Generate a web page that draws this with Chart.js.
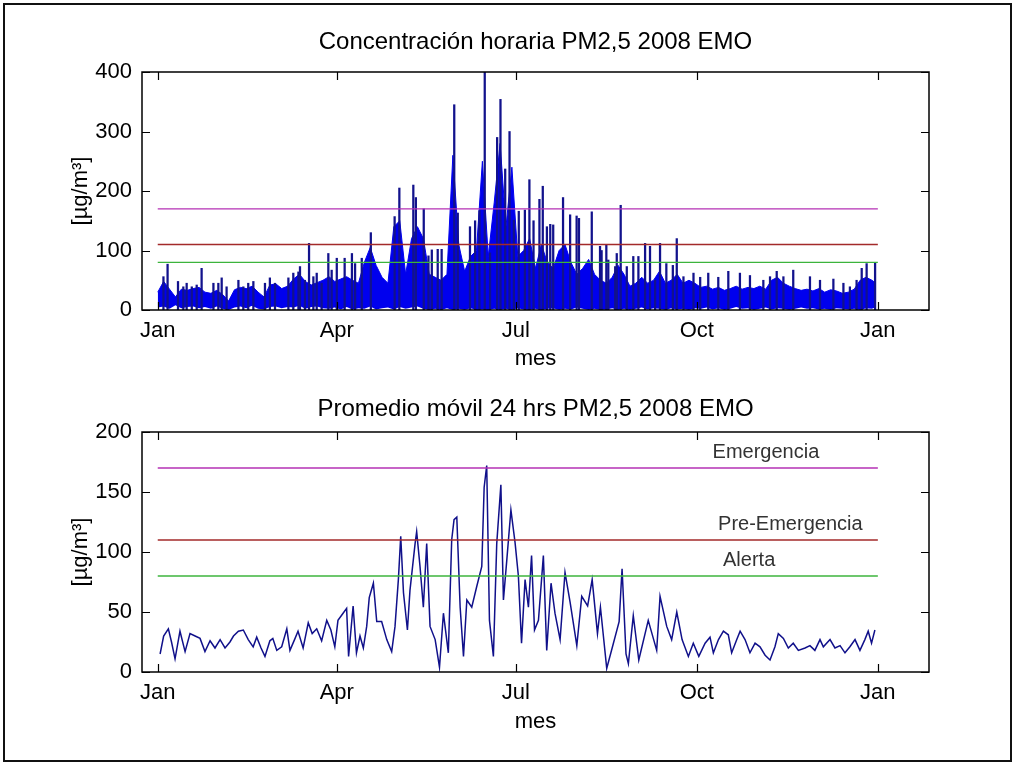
<!DOCTYPE html>
<html>
<head>
<meta charset="utf-8">
<script src="https://cdn.jsdelivr.net/npm/chart.js@4.4.1/dist/chart.umd.min.js"></script>
<style>
  html, body { margin: 0; padding: 0; background: #fff; }
  #fig { position: relative; width: 1016px; height: 766px; overflow: hidden; background: #fff; }
  #frame { position: absolute; left: 3px; top: 3px; width: 1009px; height: 759px; border: 2px solid #111; box-sizing: border-box; pointer-events: none; }
  .pane { position: absolute; left: 0; width: 1016px; height: 383px; }
</style>
</head>
<body>
<div id="fig">
  <div class="pane" style="top:0"><canvas id="c-top" width="1016" height="383"></canvas></div>
  <div class="pane" style="top:383px"><canvas id="c-bot" width="1016" height="383"></canvas></div>
  <div id="frame"></div>
</div>
<script>
// x is days since 1 Jan 2008; axis runs datenum 733400..733800
const X_MIN = -8, X_MAX = 392;
const tickDays = [0, 91, 182, 274, 366];
const tickLabels = ['Jan', 'Apr', 'Jul', 'Oct', 'Jan'];

// alert levels (µg/m3)
const alertNames = ['Emergencia', 'Pre-Emergencia', 'Alerta'];
const alertValues = [170, 110, 80];
const alertColors = ['#b530b5', '#a32a2a', '#3cb43c'];
const alertSpan = [0, 366];
const alertLabelDays = [282, 284.8, 287.3];
const alertLabelVals = [183, 123, 93];

// hourly PM2.5: dense band (every 3 days)
const bandDays = [0,3,6,9,12,15,18,21,24,27,30,33,36,39,42,45,48,51,54,57,60,63,66,69,72,75,78,81,84,87,90,93,96,99,
  102,105,108,111,114,117,120,123,126,129,132,135,138,141,144,147,150,153,156,159,162,165,168,171,174,177,180,183,
  186,189,192,195,198,201,204,207,210,213,216,219,222,225,228,231,234,237,240,243,246,249,252,255,258,261,264,267,
  270,273,276,279,282,285,288,291,294,297,300,303,306,309,312,315,318,321,324,327,330,333,336,339,342,345,348,351,
  354,357,360,363,365];
const bandHigh = [30,48,35,22,35,33,36,38,30,28,33,26,15,34,38,36,40,30,22,42,44,36,40,52,60,48,42,46,50,56,48,52,56,50,
  45,80,105,75,55,45,140,150,60,120,140,120,60,55,50,60,260,110,65,90,100,250,90,180,280,140,240,90,
  100,120,70,110,80,70,100,110,80,60,70,85,60,50,45,55,75,60,40,45,55,45,50,65,45,50,60,45,
  50,45,38,40,35,38,33,36,40,35,38,36,40,35,50,55,45,40,36,33,35,32,36,30,34,32,28,30,
  35,50,55,50,45];
const bandLow = [4,6,2,8,3,5,6,3,5,2,6,2,0,4,6,3,7,2,1,5,6,3,5,4,7,2,5,6,3,2,4,1,5,1,
  3,2,6,1,3,4,1,5,2,4,6,2,0,2,0,3,0,2,0,3,0,1,0,2,0,2,0,3,
  1,0,2,0,2,3,0,2,1,4,2,0,2,0,1,3,0,2,0,2,4,1,3,2,0,3,1,2,
  0,3,2,4,1,3,0,2,5,2,3,0,2,4,1,3,2,0,2,4,2,3,1,2,0,3,2,1,
  2,0,3,2,5];

// isolated hourly peaks
const spikeDays = [2.9,5,10.3,13,14.7,17.3,19.8,22.3,28.3,30.8,32.5,35,41,43.5,46,48.6,54.5,57,59.6,66.4,68.9,71.5,
  72.3,74.8,76.9,79.1,80.8,83.3,86.7,88.4,91,95,98.7,100.3,103.7,108.3,
  120.4,122.8,129.9,131.2,135.2,137.6,139.3,142.3,144.3,150.7,152.5,158.7,161.3,163.5,166.2,168.9,172.5,174.2,
  176.6,178.8,181,183.5,186.6,188.9,191,194,195.7,197.8,199.5,201,206,209.6,212.9,214.1,220.6,224.8,225.6,228,229,
  232.5,233.3,235.3,238.4,241.7,244.3,247.7,250.2,252.8,255.3,258.5,261.8,263.8,267.2,272.3,275.7,279.8,284.9,290,
  295.9,301,307.8,311.2,314.6,318,323,331.5,336.6,343.4,348.5,351.8,355.2,357.8,360.3,364.6];
const spikePeaks = [56,77,48,39,45,39,42,70,45,45,54,39,50,39,45,48,45,54,45,54,62,64,
  73,50,112,56,62,45,95,67,87,87,95,78,87,130,
  157,205,210,189,170,91,101,102,102,345,163,140,150,167,400,96,290,354,
  237,300,151,166,168,219,150,186,208,140,144,143,189,160,158,154,165,107,100,110,84,
  73,95,176,73,90,90,112,107,50,112,78,75,120,56,62,55,62,55,65,
  62,58,50,56,65,56,67,56,50,52,45,39,50,70,78,79];

// 24 h moving average
const movDays = [1.2,3,5.4,7,8.8,11.3,13.9,16.4,19,21.5,24,26.6,29.1,31.7,34.2,36.7,38.5,41,43.5,46,48.5,50.3,52.5,
  54.5,57,58.5,60.5,63,65.6,67.2,69.8,71.3,73.9,76.5,78.5,80.8,83.3,85.9,88,90,91.6,94.2,96,97,99.3,101,102.8,104.5,
  106.2,107.5,109.6,111.3,113.8,116.4,118.9,120.6,122.3,123.5,124.9,126.9,128.2,130.8,131.6,133.3,135,136.7,138.4,
  141,143.2,145.2,147.7,149.4,150.6,152,153.7,155.4,157.1,159.6,162.1,164.7,165.9,167.2,168.6,170.6,172.3,174.4,
  175.7,177.4,179.5,181.6,183.3,184.9,186.7,188.4,190,191.5,193.5,196,197.7,199.9,201.9,204.5,207,209.6,213,215.5,
  218.5,220.8,223.5,225,228.2,231.6,234.5,236,238,239.2,241.7,244.5,249.3,253.6,255.3,258.7,261.2,263.8,266.5,
  269.7,272.2,275,278.2,280.7,282.4,285,287.5,290,291.7,294.3,296,298.5,301,303.6,306.1,308.7,311.2,313.7,315.4,
  318,320.5,323,325.6,329,331.5,334,336.6,338.3,341.7,344.2,346.8,349.3,351.8,354.4,356.9,359.4,361.1,362.8,364.5];
const movVals = [15,30,36,25,11,34,17,32,30,28,17,26,20,27,20,25,30,34,35,27,21,29,20,
  13,26,28,18,21,36,18,28,34,20,41,32,36,26,43,35,21,43,49,53,13,55,16,30,20,
  38,62,74,42,42,27,17,38,77,113,66,35,68,107,117,88,54,107,38,
  27,4,49,16,110,127,129,54,13,60,54,71,88,154,172,43,13,107,156,
  60,93,135,108,80,24,77,54,97,35,43,97,18,74,49,27,83,58,22,63,
  55,77,32,54,3,24,42,86,15,7,47,10,43,18,63,38,27,50,27,
  13,24,13,24,29,16,27,34,31,16,27,34,27,16,24,21,14,10,21,32,
  28,20,24,18,20,22,18,27,21,27,20,22,16,21,27,18,27,34,24,35];

const FONT = '"Liberation Sans", Arial, Helvetica, sans-serif';

const axesBox = {
  id: 'axesBox',
  afterDraw(chart, args, opts) {
    const { ctx, chartArea: a, scales: { x, y } } = chart;
    ctx.save();
    ctx.strokeStyle = '#000';
    ctx.lineWidth = 1.5;
    ctx.strokeRect(a.left, a.top, a.right - a.left, a.bottom - a.top);
    ctx.lineWidth = 1.2;
    ctx.beginPath();
    const L = 8;
    x.ticks.forEach(t => {
      const px = Math.round(x.getPixelForValue(t.value)) + 0.5;
      ctx.moveTo(px, a.bottom); ctx.lineTo(px, a.bottom - L);
      ctx.moveTo(px, a.top); ctx.lineTo(px, a.top + L);
    });
    y.ticks.forEach(t => {
      const py = Math.round(y.getPixelForValue(t.value)) + 0.5;
      ctx.moveTo(a.left, py); ctx.lineTo(a.left + L, py);
      ctx.moveTo(a.right, py); ctx.lineTo(a.right - L, py);
    });
    ctx.stroke();
    if (opts.labels) {
      ctx.fillStyle = '#333';
      ctx.font = '20px ' + FONT;
      ctx.textAlign = 'left';
      ctx.textBaseline = 'middle';
      alertNames.forEach((n, i) => {
        ctx.fillText(n, x.getPixelForValue(alertLabelDays[i]), y.getPixelForValue(alertLabelVals[i]));
      });
    }
    ctx.restore();
  }
};

function alertSets() {
  return alertValues.map((v, i) => ({
    type: 'line', label: alertNames[i], order: 0,
    data: alertSpan.map(d => ({ x: d, y: v })),
    borderColor: alertColors[i], borderWidth: 1.4, pointRadius: 0, fill: false,
  }));
}

function opts({ ymax, step, title, tTop, tBot, xH, xTitleBot }) {
  return {
    responsive: false, animation: false, events: [],
    layout: { padding: { left: 0, right: 87, top: 0, bottom: 0 } },
    plugins: {
      legend: { display: false }, tooltip: { enabled: false },
      title: {
        display: true, text: title, fullSize: false, color: '#000',
        font: { family: FONT, size: 24, weight: 'normal' },
        padding: { top: tTop, bottom: tBot },
      },
      axesBox: { labels: false },
    },
    scales: {
      x: {
        type: 'linear', min: X_MIN, max: X_MAX, offset: false,
        afterBuildTicks: s => { s.ticks = tickDays.map(v => ({ value: v })); },
        afterFit: s => { s.height = xH; },
        grid: { display: false, drawTicks: false }, border: { display: false },
        ticks: {
          autoSkip: false, maxRotation: 0, padding: 8, color: '#000',
          font: { family: FONT, size: 22 },
          callback: (v, i) => tickLabels[i],
        },
        title: { display: true, text: 'mes', color: '#000', font: { family: FONT, size: 22 }, padding: { top: 0, bottom: xTitleBot } },
      },
      y: {
        min: 0, max: ymax,
        afterFit: s => { s.width = 142; },
        grid: { display: false, drawTicks: false }, border: { display: false },
        ticks: { stepSize: step, padding: 10, color: '#000', font: { family: FONT, size: 22 } },
        title: { display: true, text: '[µg/m³]', color: '#000', font: { family: FONT, size: 22 }, padding: { top: 68, bottom: 0 } },
      },
    },
  };
}

new Chart(document.getElementById('c-top'), {
  type: 'line',
  data: {
    datasets: [
      ...alertSets(),
      {
        type: 'bar', label: 'peaks', order: 1, grouped: false,
        data: spikeDays.map((d, i) => ({ x: d, y: [0, spikePeaks[i]] })),
        backgroundColor: '#12128c', barThickness: 1.6,
      },
      {
        type: 'line', label: 'low', order: 3,
        data: bandDays.map((d, i) => ({ x: d, y: bandLow[i] })),
        borderColor: 'rgba(0,0,0,0)', borderWidth: 0, pointRadius: 0, fill: false,
      },
      {
        type: 'line', label: 'PM2.5 horaria', order: 2,
        data: bandDays.map((d, i) => ({ x: d, y: bandHigh[i] })),
        borderColor: '#0000ee', borderWidth: 1, pointRadius: 0,
        fill: '-1', backgroundColor: '#0000ee',
      },
    ],
  },
  options: opts({ ymax: 400, step: 100, title: 'Concentración horaria PM2,5 2008 EMO', tTop: 27.6, tBot: 15.6, xH: 73, xTitleBot: 10.8 }),
  plugins: [axesBox],
});

const botOpts = opts({ ymax: 200, step: 50, title: 'Promedio móvil 24 hrs PM2,5 2008 EMO', tTop: 11.6, tBot: 8.6, xH: 94, xTitleBot: 30.8 });
botOpts.plugins.axesBox.labels = true;

new Chart(document.getElementById('c-bot'), {
  type: 'line',
  data: {
    datasets: [
      ...alertSets(),
      {
        type: 'line', label: 'Promedio móvil 24 hrs', order: 1,
        data: movDays.map((d, i) => ({ x: d, y: movVals[i] })),
        borderColor: '#10108a', borderWidth: 1.5, pointRadius: 0, fill: false, tension: 0,
      },
    ],
  },
  options: botOpts,
  plugins: [axesBox],
});
</script>
</body>
</html>
